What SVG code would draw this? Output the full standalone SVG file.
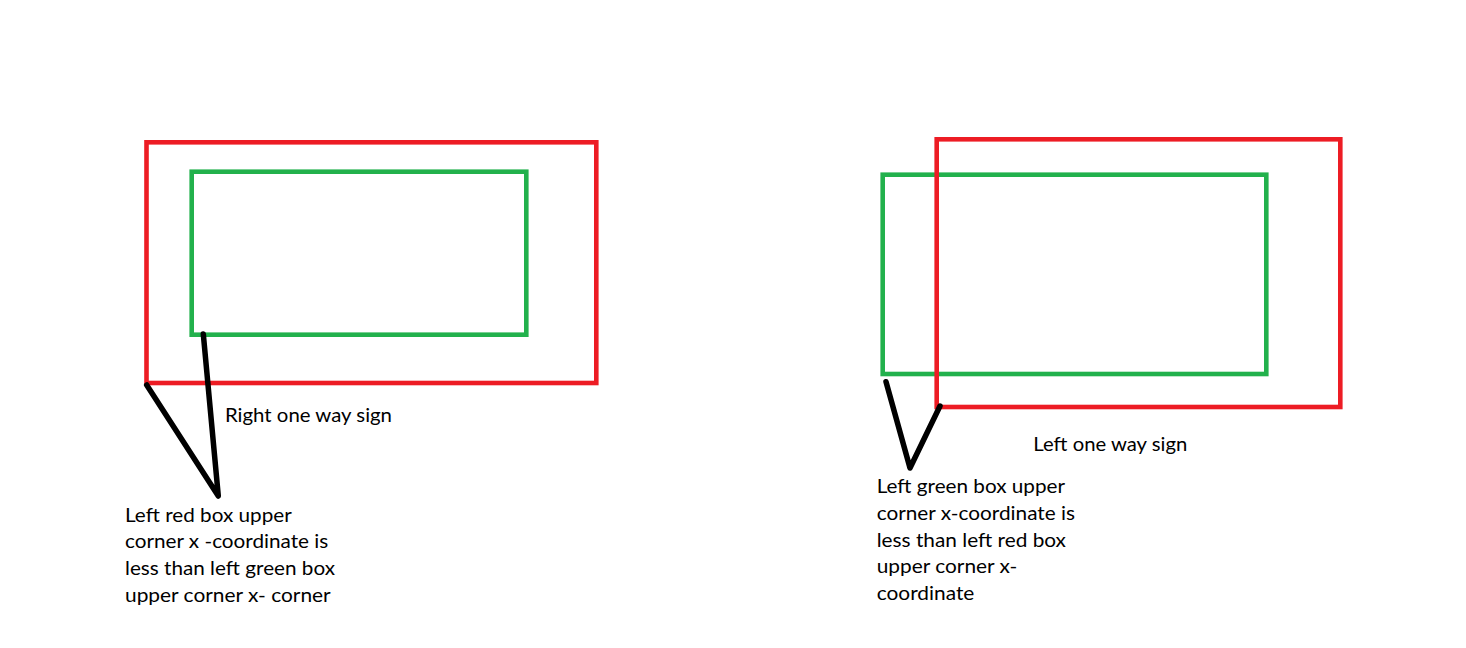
<svg xmlns="http://www.w3.org/2000/svg" width="1466" height="648" viewBox="0 0 1466 648">
<style>
.red{fill:none;stroke:#ed1c24;stroke-width:4.6}
.green{fill:none;stroke:#22b14c;stroke-width:4.6}
.pointer{fill:none;stroke:#000;stroke-width:5.5;stroke-linecap:round;stroke-linejoin:round}
.lbl{font-family:Lato,"Open Sans","Liberation Sans",sans-serif;font-size:19px;fill:#000}
</style>
<rect width="1466" height="648" fill="#fff"/>
<g id="left-red-box"><rect class="red" x="146.5" y="142.3" width="449.8" height="240.7"/></g>
<g id="left-green-box"><rect class="green" x="191.7" y="171.7" width="334.6" height="163"/></g>
<g id="right-green-box"><rect class="green" x="882.7" y="174.7" width="383.6" height="199.3"/></g>
<g id="right-red-box"><rect class="red" x="936.7" y="139.3" width="403.6" height="267.7"/></g>
<g id="connectors">
<polyline class="pointer" points="146.7,385 218.3,496 203.3,334"/>
<polyline class="pointer" points="886,381.7 910,468 940,406"/>
</g>
<g id="label-right-one-way">
<text class="lbl" x="225" y="421.5" textLength="167" lengthAdjust="spacingAndGlyphs">Right one way sign</text>
</g>
<g id="label-left-note">
<text class="lbl" x="125" y="521.5" textLength="166.7" lengthAdjust="spacingAndGlyphs">Left red box upper</text>
<text class="lbl" x="125" y="548.3" textLength="203.3" lengthAdjust="spacingAndGlyphs">corner x -coordinate is</text>
<text class="lbl" x="125" y="575" textLength="210" lengthAdjust="spacingAndGlyphs">less than left green box</text>
<text class="lbl" x="125" y="601.7" textLength="205.7" lengthAdjust="spacingAndGlyphs">upper corner x- corner</text>
</g>
<g id="label-left-one-way">
<text class="lbl" x="1033.3" y="450.5" textLength="154" lengthAdjust="spacingAndGlyphs">Left one way sign</text>
</g>
<g id="label-right-note">
<text class="lbl" x="876.7" y="493.3" textLength="188.3" lengthAdjust="spacingAndGlyphs">Left green box upper</text>
<text class="lbl" x="876.7" y="520" textLength="198.3" lengthAdjust="spacingAndGlyphs">corner x-coordinate is</text>
<text class="lbl" x="876.7" y="546.7" textLength="189.3" lengthAdjust="spacingAndGlyphs">less than left red box</text>
<text class="lbl" x="876.7" y="573.3" textLength="140.7" lengthAdjust="spacingAndGlyphs">upper corner x-</text>
<text class="lbl" x="876.7" y="600" textLength="97.7" lengthAdjust="spacingAndGlyphs">coordinate</text>
</g>
</svg>
